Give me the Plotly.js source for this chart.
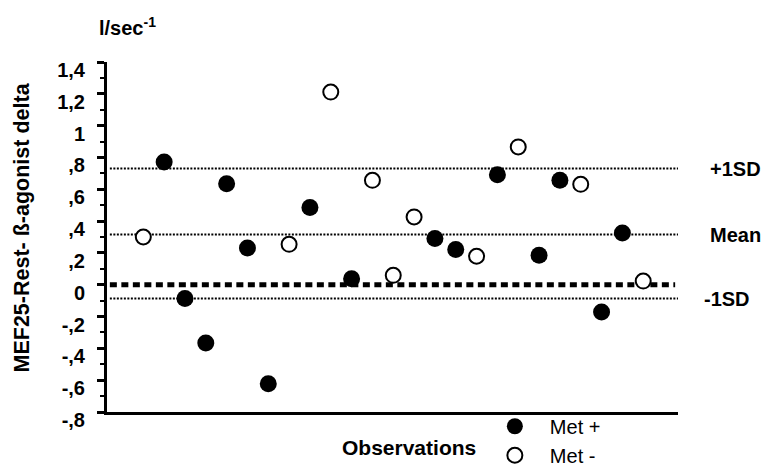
<!DOCTYPE html>
<html>
<head>
<meta charset="utf-8">
<script src="https://cdn.plot.ly/plotly-3.0.1.min.js"></script>
<style>html,body{margin:0;padding:0;background:#fff;}#chart{width:766px;height:466px;}</style>
</head>
<body>
<div id="chart"></div>
<script>
// Observation index (x) and MEF25 delta values (y)
const metPlusObs = [2, 3, 4, 5, 6, 7, 9, 11, 15, 16, 18, 20, 21, 23, 24];
const metPlusVals = [0.771, -0.087, -0.366, 0.635, 0.231, -0.622, 0.485, 0.038, 0.29, 0.221, 0.692, 0.185, 0.656, -0.172, 0.325];
const metMinusObs = [1, 8, 10, 12, 13, 14, 17, 19, 22, 25];
const metMinusVals = [0.30, 0.254, 1.211, 0.656, 0.059, 0.426, 0.179, 0.866, 0.631, 0.023];

// Reference lines
const refLabels = ["+1SD", "Mean", "-1SD"];
const refValues = [0.73, 0.315, -0.087];
const zeroLineValue = [0];

// Y tick labels
const yTickVals = [1.4, 1.2, 1, 0.8, 0.6, 0.4, 0.2, 0, -0.2, -0.4, -0.6, -0.8];
const yTickText = ["1,4", "1,2", "1", ",8", ",6", ",4", ",2", "0", "-,2", "-,4", "-,6", "-,8"];

const FONT = "Liberation Sans, Arial, Helvetica, sans-serif";

const traces = [
  {
    x: metPlusObs, y: metPlusVals, type: "scatter", mode: "markers", name: "Met +",
    marker: {color: "#000", size: 17, line: {width: 0}},
    cliponaxis: false
  },
  {
    x: metMinusObs, y: metMinusVals, type: "scatter", mode: "markers", name: "Met -",
    marker: {color: "#fff", size: 15, line: {color: "#000", width: 2}},
    cliponaxis: false
  }
];

const shapes = [];
refValues.forEach(v => {
  shapes.push({type: "line", xref: "paper", yref: "y", x0: 0.005, x1: 1, y0: v, y1: v,
    line: {color: "#000", width: 2, dash: "2px,1.5px"}, layer: "below"});
});
zeroLineValue.forEach(v => {
  shapes.push({type: "line", xref: "paper", yref: "y", x0: 0.005, x1: 0.995, y0: v, y1: v,
    line: {color: "#000", width: 5, dash: "7px,4.5px"}, layer: "below"});
});

const annotations = [];
const refX = [1.0525, 1.0525, 1.0415];
refLabels.forEach((t, i) => {
  annotations.push({text: "<b>" + t + "</b>", xref: "paper", yref: "y", x: refX[i], y: refValues[i],
    xanchor: "left", yanchor: "middle", showarrow: false, font: {family: FONT, size: 20, color: "#000"}});
});
annotations.push({text: "<b>l/sec<sup>-1</sup></b>", xref: "paper", yref: "paper", x: -0.018, y: 1.10,
  xanchor: "left", yanchor: "middle", showarrow: false, font: {family: FONT, size: 20, color: "#000"}});
annotations.push({text: "<b>MEF25-Rest- ß-agonist delta</b>", xref: "paper", yref: "paper", x: -0.149, y: 0.527,
  textangle: -90, xanchor: "center", yanchor: "middle", showarrow: false, font: {family: FONT, size: 21.5, color: "#000"}});
annotations.push({text: "<b>Observations</b>", xref: "paper", yref: "paper", x: 0.529, y: -0.1,
  xanchor: "center", yanchor: "middle", showarrow: false, font: {family: FONT, size: 21, color: "#000"}});

const layout = {
  width: 766, height: 466,
  margin: {l: 107, r: 88, t: 62, b: 54, autoexpand: false},
  paper_bgcolor: "#fff", plot_bgcolor: "#fff",
  font: {family: FONT, size: 20, color: "#000"},
  showlegend: true,
  legend: {x: 0.653, y: 0.015, xanchor: "left", yanchor: "top", bgcolor: "rgba(0,0,0,0)",
    font: {family: FONT, size: 20, color: "#000"}, itemwidth: 60, tracegroupgap: 0},
  xaxis: {range: [-0.743, 26.67], showgrid: false, zeroline: false, showticklabels: false, ticks: "",
    showline: true, linecolor: "#000", linewidth: 3, fixedrange: true},
  yaxis: {range: [-0.8, 1.4], showgrid: false, zeroline: false, showline: true, linecolor: "#000", linewidth: 3,
    tickmode: "array", tickvals: yTickVals, ticktext: yTickText, ticks: "outside", ticklen: 7, tickwidth: 3, tickcolor: "#000",
    tickfont: {family: FONT, size: 20, color: "#000", weight: "bold"}, ticklabelshift: 8, ticklabelstandoff: 8,
    minor: {tickmode: "linear", tick0: -0.8, dtick: 0.1, ticks: "outside", ticklen: 4, tickwidth: 2, tickcolor: "#000"},
    fixedrange: true},
  shapes: shapes,
  annotations: annotations
};

Plotly.newPlot("chart", traces, layout, {displayModeBar: false, staticPlot: true});
</script>
</body>
</html>
